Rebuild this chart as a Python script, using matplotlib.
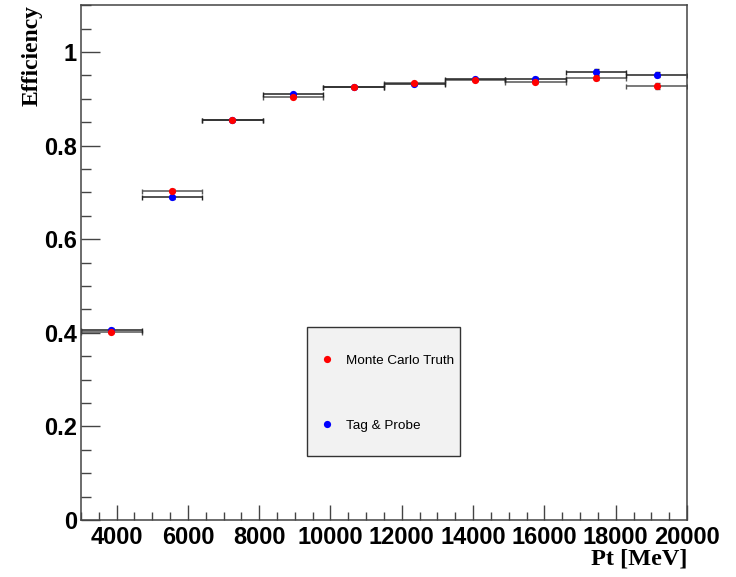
import numpy as np
import matplotlib
matplotlib.use("Agg")
import matplotlib.pyplot as plt
from matplotlib.patches import Rectangle
from matplotlib.ticker import MultipleLocator, FuncFormatter

# bin edges in Pt [MeV]
bin_edges = [3000, 4700, 6400, 8100, 9800, 11500, 13200, 14900, 16600, 18300, 20000]

# efficiencies
mc_truth = [0.402, 0.704, 0.854, 0.905, 0.925, 0.934, 0.940, 0.936, 0.945, 0.928]
mc_truth_err = [0.003, 0.003, 0.002, 0.002, 0.002, 0.002, 0.002, 0.003, 0.004, 0.006]
tag_probe = [0.407, 0.690, 0.854, 0.910, 0.925, 0.932, 0.942, 0.943, 0.957, 0.952]
tag_probe_err = [0.003, 0.003, 0.002, 0.002, 0.002, 0.002, 0.002, 0.003, 0.006, 0.005]

edges = np.array(bin_edges, dtype=float)
centers = 0.5 * (edges[:-1] + edges[1:])
half_w = 0.5 * np.diff(edges)

fig = plt.figure(figsize=(7.36, 5.77), dpi=100)
ax = fig.add_axes([0.110, 0.0988, 0.8234, 0.892])

# error bars first (ROOT style: horizontal bin width + tiny vertical error)
ax.errorbar(centers, mc_truth, xerr=half_w, yerr=mc_truth_err, fmt='none',
            ecolor='#555555', elinewidth=1.1, capsize=1.8, capthick=1.0, zorder=2)
ax.errorbar(centers, tag_probe, xerr=half_w, yerr=tag_probe_err, fmt='none',
            ecolor='#222222', elinewidth=1.1, capsize=1.8, capthick=1.0, zorder=2)

# markers
h_tp, = ax.plot(centers, tag_probe, 'o', color='#0000ff', markersize=5.2,
                markeredgewidth=0, label='Tag & Probe', zorder=3)
h_mc, = ax.plot(centers, mc_truth, 'o', color='#ff0000', markersize=5.2,
                markeredgewidth=0, label='Monte Carlo Truth', zorder=4)

ax.set_xlim(3000, 20000)
ax.set_ylim(0, 1.1)

ax.xaxis.set_major_locator(MultipleLocator(2000))
ax.xaxis.set_minor_locator(MultipleLocator(500))
ax.yaxis.set_major_locator(MultipleLocator(0.2))
ax.yaxis.set_minor_locator(MultipleLocator(0.05))
ax.yaxis.set_major_formatter(FuncFormatter(lambda v, p: '%g' % round(v, 2)))

for s in ax.spines.values():
    s.set_color('#444444')
    s.set_linewidth(1.1)

ax.tick_params(axis='both', which='both', direction='in', colors='#444444',
               top=False, right=False, width=1.0)
ax.tick_params(axis='x', which='major', length=10.8, pad=4)
ax.tick_params(axis='x', which='minor', length=5.5)
ax.tick_params(axis='y', which='major', length=13.4, pad=3)
ax.tick_params(axis='y', which='minor', length=7.2)

for lab in ax.get_xticklabels() + ax.get_yticklabels():
    lab.set_fontfamily('Liberation Sans')
    lab.set_fontweight('bold')
    lab.set_fontsize(17)
    lab.set_color('black')

ax.set_ylabel('Efficiency', fontfamily='Liberation Serif', fontweight='bold',
              fontsize=17, loc='top')
ax.yaxis.set_label_coords(-0.063, 1.0)
ax.set_xlabel('Pt [MeV]', fontfamily='Liberation Serif', fontweight='bold',
              fontsize=17.5, loc='right', labelpad=0)

# legend box (ROOT TLegend style), entries drawn on top of it
ax.add_patch(Rectangle((0.373, 0.1243), 0.2525, 0.2505, transform=ax.transAxes,
                       facecolor='#f2f2f2', edgecolor='#333333', linewidth=1.0,
                       zorder=5))
leg = ax.legend(handles=[h_mc, h_tp], loc='upper left',
                bbox_to_anchor=(0.373, 0.3476),
                prop={'family': 'Liberation Sans', 'size': 9.7},
                borderpad=0.98, handlelength=1.0, handletextpad=0.95,
                labelspacing=3.9, frameon=False, borderaxespad=0)
leg.set_zorder(6)

fig.savefig('out.png', dpi=100, facecolor='white')
